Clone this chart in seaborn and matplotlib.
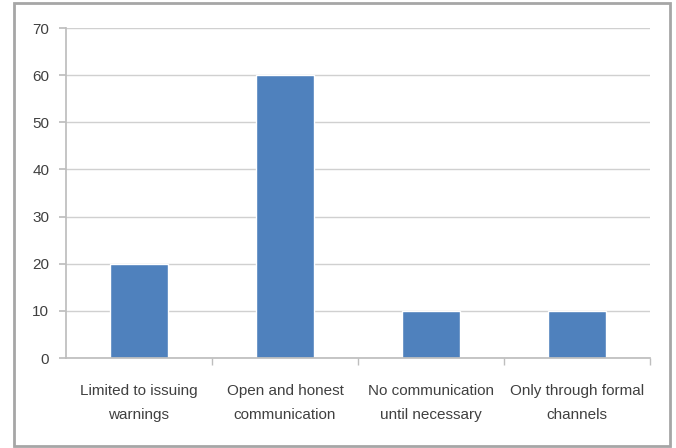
import matplotlib
matplotlib.use("Agg")
import matplotlib.pyplot as plt
import seaborn as sns
import pandas as pd
from matplotlib.patches import Rectangle

categories = [
    "Limited to issuing\nwarnings",
    "Open and honest\ncommunication",
    "No communication\nuntil necessary",
    "Only through formal\nchannels",
]
values = [20, 60, 10, 10]
y_ticks = [0, 10, 20, 30, 40, 50, 60, 70]

df = pd.DataFrame({"category": categories, "value": values})

sns.set_theme(style="white")
plt.rcParams["font.family"] = ["Liberation Sans", "DejaVu Sans"]

fig = plt.figure(figsize=(6.76, 4.48), dpi=100)
ax = fig.add_axes([66 / 676, 1 - 358 / 448, 584 / 676, 330 / 448])

sns.barplot(data=df, x="category", y="value", color="#4F81BD",
            width=0.4, saturation=1, ax=ax)

ax.set_xlim(-0.5, 3.5)
ax.set_ylim(0, 70)
ax.set_yticks(y_ticks)
ax.set_xlabel("")
ax.set_ylabel("")
ax.yaxis.grid(True, color="#D0D0D0", linewidth=1)
ax.set_axisbelow(True)

for side in ["top", "right"]:
    ax.spines[side].set_visible(False)
ax.spines["left"].set_color("#BEBEBE")
ax.spines["bottom"].set_color("#BEBEBE")

# category labels without ticks; tick marks sit between categories
ax.tick_params(axis="x", which="major", length=0, pad=19,
               labelsize=11, labelcolor="#404040")
for lbl in ax.get_xticklabels():
    lbl.set_linespacing(1.85)
ax.set_xticks([0.5, 1.5, 2.5, 3.5], minor=True)
ax.tick_params(axis="x", which="minor", length=5, color="#BEBEBE",
               direction="out", bottom=True)
ax.tick_params(axis="y", length=5, color="#BEBEBE", direction="out",
               left=True, labelsize=11, labelcolor="#404040", pad=7)

# chart frame
fig.patches.append(Rectangle((14 / 676, 2 / 448), 656 / 676, 443 / 448,
                             transform=fig.transFigure, fill=False,
                             edgecolor="#A6A6A6", linewidth=2))

fig.savefig("out.png", dpi=100)
